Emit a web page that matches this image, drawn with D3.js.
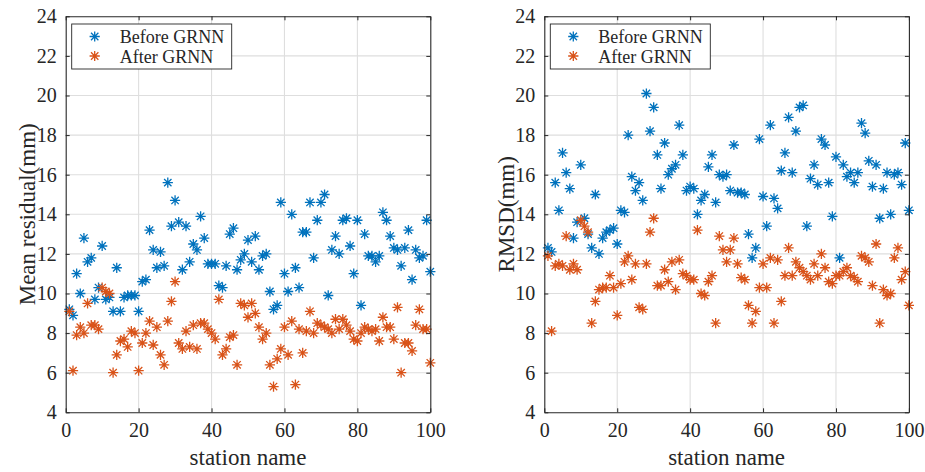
<!DOCTYPE html>
<html>
<head>
<meta charset="utf-8">
<script src="https://cdn.jsdelivr.net/npm/d3@7"></script>
<style>
  body { margin: 0; background: #fff; }
  svg { display: block; }
  text { font-family: "Liberation Serif", "Times New Roman", serif; fill: #262626; }
</style>
</head>
<body>
<svg id="chart" width="925" height="472"></svg>
<script>
// Station indices shared by both panels
const stations = d3.range(1, 101);

// Mean residual (mm) per station
const meanBefore = [
  9.2, 8.9, 11.0, 10.0, 12.8, 11.6, 11.8, 9.7, 10.3, 12.4,
  9.7, 9.8, 9.1, 11.3, 9.1, 9.8, 9.9, 9.9, 9.9, 9.1,
  10.6, 10.7, 13.2, 12.2, 11.3, 12.1, 11.4, 15.6, 13.4, 14.7,
  13.6, 11.2, 13.4, 11.6, 12.5, 12.2, 13.9, 12.8, 11.5, 11.5,
  11.5, 10.4, 10.3, 11.4, 13.0, 13.3, 11.2, 11.7, 12.0, 12.7,
  11.6, 12.9, 11.2, 11.9, 12.0, 10.1, 9.2, 9.4, 14.6, 11.0,
  10.1, 14.0, 11.3, 10.3, 13.1, 13.1, 14.6, 11.8, 13.7, 14.6,
  15.0, 9.9, 12.2, 12.9, 12.0, 13.7, 13.8, 12.4, 11.0, 13.7,
  9.4, 13.0, 11.9, 11.9, 11.6, 11.9, 14.1, 13.7, 12.9, 12.3,
  12.2, 11.4, 12.3, 13.2, 10.7, 12.2, 11.8, 11.9, 13.7, 11.1
];
const meanAfter = [
  9.1, 6.1, 7.9, 8.3, 8.0, 9.5, 8.4, 8.4, 8.2, 10.3,
  10.1, 10.0, 6.0, 6.9, 7.6, 7.7, 7.3, 8.1, 8.0, 6.1,
  7.5, 8.0, 8.6, 7.4, 8.3, 6.9, 6.4, 8.6, 9.6, 10.6,
  7.5, 7.2, 8.1, 7.3, 8.4, 7.2, 8.5, 8.5, 8.2, 8.0,
  7.7, 9.7, 6.9, 7.2, 7.8, 7.9, 6.4, 9.5, 9.4, 8.8,
  9.5, 9.0, 8.3, 7.7, 8.0, 6.4, 5.3, 6.7, 7.2, 8.3,
  6.9, 8.6, 5.4, 8.2, 7.0, 8.1, 9.1, 8.0, 8.5, 8.4,
  8.3, 8.2, 8.0, 8.7, 8.2, 8.7, 8.4, 8.1, 7.7, 7.6,
  8.0, 8.3, 8.2, 8.1, 8.2, 7.6, 8.8, 8.3, 8.3, 7.7,
  9.3, 6.0, 7.5, 7.5, 7.1, 8.4, 9.2, 8.2, 8.2, 6.5
];

// RMSD (mm) per station
const rmsdBefore = [
  12.3, 12.1, 15.6, 14.2, 17.1, 16.1, 15.3, 12.8, 13.6, 16.5,
  13.8, 13.0, 12.3, 15.0, 12.0, 12.8, 13.1, 13.2, 13.3, 12.5,
  14.2, 14.1, 18.0, 15.9, 15.2, 15.6, 14.7, 20.1, 18.2, 19.4,
  17.0, 15.3, 17.6, 16.0, 16.3, 16.5, 18.5, 17.0, 15.2, 15.4,
  15.3, 14.0, 14.7, 15.0, 16.4, 17.0, 14.6, 16.0, 15.9, 16.0,
  15.2, 17.5, 15.1, 15.1, 15.0, 13.0, 11.8, 12.3, 17.8, 14.9,
  13.4, 18.5, 14.8, 14.3, 16.2, 17.1, 18.9, 16.1, 18.2, 19.4,
  19.5, 13.4, 15.8, 16.5, 15.5, 17.8, 17.5, 15.6, 13.9, 16.9,
  11.8, 16.5, 15.9, 16.1, 15.6, 16.1, 18.6, 18.1, 16.7, 15.4,
  16.5, 13.8, 15.3, 16.1, 14.0, 16.0, 16.1, 15.5, 17.6, 14.2
];
const rmsdAfter = [
  11.9, 8.1, 11.4, 11.5, 11.4, 12.9, 11.2, 11.5, 11.2, 13.7,
  13.4, 13.1, 8.5, 9.6, 10.2, 10.3, 10.3, 10.9, 10.3, 8.9,
  10.5, 11.6, 11.9, 10.7, 11.5, 9.3, 9.2, 11.5, 13.1, 13.8,
  10.4, 10.4, 11.2, 10.6, 11.6, 10.2, 11.7, 11.0, 10.9, 10.7,
  10.7, 13.2, 10.0, 9.9, 10.6, 10.9, 8.5, 12.9, 12.2, 11.6,
  12.2, 12.8, 11.5, 10.8, 10.7, 9.4, 8.5, 9.1, 10.3, 11.5,
  10.3, 11.8, 8.5, 11.7, 9.6, 10.9, 12.3, 10.9, 11.6, 11.3,
  11.1, 10.9, 10.7, 11.5, 10.9, 12.0, 11.3, 10.6, 10.5, 10.9,
  10.9, 11.1, 11.3, 10.9, 10.8, 10.6, 11.9, 11.8, 11.6, 10.4,
  12.5, 8.5, 10.2, 9.9, 10.0, 11.8, 12.3, 10.7, 11.1, 9.4
];

const xTicks = [0, 20, 40, 60, 80, 100];
const yTicks = [4, 6, 8, 10, 12, 14, 16, 18, 20, 22, 24];
const seriesNames = ["Before GRNN", "After GRNN"];
const seriesColors = ["#0072BD", "#D95319"];
const xLabel = "station name";

const panels = [
  { left: 65.7, ylabel: "Mean residual(mm)", labelX: 35, series: [meanBefore, meanAfter] },
  { left: 544.3, ylabel: "RMSD(mm)", labelX: 514, series: [rmsdBefore, rmsdAfter] }
];

const plotW = 364.6, plotTop = 16.3, plotBottom = 412.3;
const axisColor = "#262626";
const serif = '"Liberation Serif", "Times New Roman", serif';

// Eight-armed asterisk marker (plus sign combined with a cross)
const asterisk = {
  draw(ctx, size) {
    const r = Math.sqrt(size) / 2;
    const d = r * 0.72;
    ctx.moveTo(0, -r); ctx.lineTo(0, r);
    ctx.moveTo(-r, 0); ctx.lineTo(r, 0);
    ctx.moveTo(-d, -d); ctx.lineTo(d, d);
    ctx.moveTo(-d, d); ctx.lineTo(d, -d);
  }
};
const markerPath = d3.symbol().type(asterisk).size(105)();

const svg = d3.select("#chart");

panels.forEach(p => {
  const x = d3.scaleLinear().domain([0, 100]).range([p.left, p.left + plotW]);
  const y = d3.scaleLinear().domain([4, 24]).range([plotBottom, plotTop]);
  const g = svg.append("g");

  // grid
  const grid = g.append("g").attr("stroke", "#dedede").attr("stroke-width", 1.1);
  grid.selectAll("line.v").data(xTicks.slice(1, -1)).join("line")
    .attr("x1", d => x(d)).attr("x2", d => x(d)).attr("y1", plotTop).attr("y2", plotBottom);
  grid.selectAll("line.h").data(yTicks.slice(1, -1)).join("line")
    .attr("x1", p.left).attr("x2", p.left + plotW).attr("y1", d => y(d)).attr("y2", d => y(d));

  // markers
  p.series.forEach((vals, si) => {
    g.append("g")
      .attr("fill", "none")
      .attr("stroke", seriesColors[si])
      .attr("stroke-width", 1.3)
      .selectAll("path").data(stations).join("path")
      .attr("d", markerPath)
      .attr("transform", (s, i) => `translate(${x(s)},${y(vals[i])})`);
  });

  // axes (ticks pointing inward on all four sides)
  const styleAxis = sel => {
    sel.attr("font-family", serif);
    sel.select(".domain").attr("stroke", axisColor).attr("stroke-width", 1.1);
    sel.selectAll(".tick line").attr("stroke", axisColor).attr("stroke-width", 1);
    sel.selectAll(".tick text").attr("font-size", 20).attr("fill", axisColor)
      .attr("font-family", serif);
  };
  g.append("g").attr("transform", `translate(0,${plotBottom})`)
    .call(d3.axisBottom(x).tickValues(xTicks).tickSizeInner(-4).tickSizeOuter(0).tickPadding(11))
    .call(styleAxis);
  g.append("g").attr("transform", `translate(0,${plotTop})`)
    .call(d3.axisTop(x).tickValues(xTicks).tickSizeInner(-4).tickSizeOuter(0).tickFormat(""))
    .call(styleAxis);
  g.append("g").attr("transform", `translate(${p.left},0)`)
    .call(d3.axisLeft(y).tickValues(yTicks).tickSizeInner(-4).tickSizeOuter(0).tickPadding(9))
    .call(styleAxis);
  g.append("g").attr("transform", `translate(${p.left + plotW},0)`)
    .call(d3.axisRight(y).tickValues(yTicks).tickSizeInner(-4).tickSizeOuter(0).tickFormat(""))
    .call(styleAxis);

  // axis titles
  g.append("text")
    .attr("x", p.left + plotW / 2).attr("y", 465)
    .attr("text-anchor", "middle").attr("font-size", 23).attr("font-family", serif)
    .text(xLabel);
  g.append("text")
    .attr("transform", `translate(${p.labelX},${(plotTop + plotBottom) / 2}) rotate(-90)`)
    .attr("text-anchor", "middle").attr("font-size", 23).attr("font-family", serif)
    .text(p.ylabel);

  // legend
  const lg = g.append("g").attr("transform", `translate(${p.left + 6},24)`);
  lg.append("rect").attr("width", 160).attr("height", 45)
    .attr("fill", "#fff").attr("stroke", axisColor).attr("stroke-width", 0.9);
  seriesNames.forEach((name, i) => {
    const yy = 12.5 + i * 19.5;
    lg.append("path").attr("d", markerPath)
      .attr("transform", `translate(23,${yy})`)
      .attr("fill", "none").attr("stroke", seriesColors[i]).attr("stroke-width", 1.3);
    lg.append("text").attr("x", 48).attr("y", yy + 6.5)
      .attr("font-size", 18).attr("font-family", serif).text(name);
  });
});
</script>
</body>
</html>
